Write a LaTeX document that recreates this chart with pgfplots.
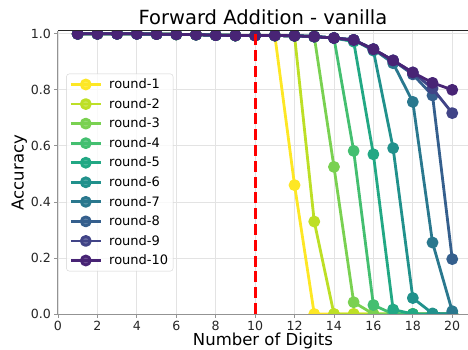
\documentclass[border=0pt]{standalone}
\usepackage{fontspec}
\setmainfont{DejaVu Sans}
\usepackage{pgfplots}
\usepackage{pgfplotstable}
\pgfplotsset{compat=1.18}
\definecolor{c1}{HTML}{FDE725}
\definecolor{c2}{HTML}{BDDF26}
\definecolor{c3}{HTML}{7AD151}
\definecolor{c4}{HTML}{44BF70}
\definecolor{c5}{HTML}{22A884}
\definecolor{c6}{HTML}{21918C}
\definecolor{c7}{HTML}{2A788E}
\definecolor{c8}{HTML}{355F8D}
\definecolor{c9}{HTML}{414487}
\definecolor{c10}{HTML}{482475}
\pgfplotstableread{
x   r1    r2    r3    r4    r5    r6    r7    r8    r9    r10
1   1.0   1.0   1.0   1.0   1.0   1.0   1.0   1.0   1.0   1.0
2   1.0   1.0   1.0   1.0   1.0   1.0   1.0   1.0   1.0   1.0
3   1.0   1.0   1.0   1.0   1.0   1.0   1.0   1.0   1.0   1.0
4   1.0   1.0   1.0   1.0   1.0   1.0   1.0   1.0   1.0   1.0
5   0.999 0.999 0.999 0.999 0.999 0.999 0.999 0.999 0.999 0.999
6   0.998 0.998 0.998 0.998 0.998 0.998 0.998 0.998 0.998 0.998
7   0.997 0.997 0.997 0.997 0.997 0.997 0.997 0.997 0.997 0.997
8   0.995 0.995 0.995 0.995 0.995 0.995 0.995 0.995 0.995 0.995
9   0.994 0.994 0.994 0.994 0.994 0.994 0.994 0.994 0.994 0.994
10  0.994 0.994 0.994 0.994 0.994 0.994 0.994 0.994 0.994 0.994
11  0.994 0.994 0.994 0.994 0.994 0.994 0.994 0.994 0.994 0.994
12  0.46  0.993 0.993 0.993 0.993 0.993 0.993 0.993 0.993 0.993
13  0.0   0.33  0.99  0.99  0.99  0.99  0.99  0.99  0.99  0.99
14  0.0   0.0   0.525 0.985 0.985 0.985 0.985 0.985 0.985 0.985
15  0.0   0.0   0.042 0.582 0.972 0.978 0.978 0.978 0.978 0.978
16  0.0   0.0   0.0   0.032 0.57  0.94  0.945 0.945 0.945 0.945
17  0.0   0.0   0.0   0.0   0.016 0.592 0.895 0.905 0.905 0.905
18  0.0   0.0   0.0   0.0   0.0   0.057 0.757 0.855 0.862 0.862
19  0.0   0.0   0.0   0.0   0.0   0.002 0.255 0.78  0.805 0.825
20  0.0   0.0   0.0   0.0   0.0   0.0   0.01  0.196 0.717 0.80
}\datatable
\begin{document}
\begin{tikzpicture}
\begin{axis}[
  at={(0,0)}, anchor=south west,
  scale only axis, width=410bp, height=283bp,
  xmin=0, xmax=20.8, ymin=0, ymax=1.01,
  xtick={0,2,...,20}, ytick={0,0.2,0.4,0.6,0.8,1.0},
  yticklabel style={/pgf/number format/.cd, fixed, fixed zerofill, precision=1},
  /pgf/number format/assume math mode=true,
  tick label style={font=\fontsize{12.6bp}{14bp}\selectfont, text=black!85},
  axis lines=left,
  axis line style={-, draw=gray!85, line width=1bp},
  tick align=outside, major tick length=3.5bp,
  tick style={draw=gray!85, line width=0.8bp},
  grid=major, major grid style={draw=gray!22, line width=0.8bp},
  title={Forward Addition - vanilla},
  title style={font=\fontsize{19.5bp}{23bp}\selectfont, yshift=-3bp},
  xlabel={Number of Digits}, ylabel={Accuracy},
  label style={font=\fontsize{16.5bp}{19bp}\selectfont},
  xlabel style={yshift=4bp},
  ylabel style={yshift=-3bp},
  clip marker paths=true,
  every axis plot/.append style={line width=2.8bp, mark=*, mark size=4.5bp, line join=round},
  legend cell align=left,
  legend style={at={(0.02,0.5)}, anchor=west, font=\fontsize{13bp}{15bp}\selectfont,
    draw=gray!35, rounded corners=3bp, fill=white, fill opacity=0.8, text opacity=1,
    row sep=4.2bp, inner sep=3bp,
    /tikz/every odd column/.append style={column sep=5bp}},
  legend image code/.code={\draw[mark repeat=2, mark phase=2, #1] plot coordinates {(0bp,0bp) (15bp,0bp) (30bp,0bp)};},
]
\addplot[c1] table[x=x, y=r1] {\datatable};
\addlegendentry{round-1}
\addplot[c2] table[x=x, y=r2] {\datatable};
\addlegendentry{round-2}
\addplot[c3] table[x=x, y=r3] {\datatable};
\addlegendentry{round-3}
\addplot[c4] table[x=x, y=r4] {\datatable};
\addlegendentry{round-4}
\addplot[c5] table[x=x, y=r5] {\datatable};
\addlegendentry{round-5}
\addplot[c6] table[x=x, y=r6] {\datatable};
\addlegendentry{round-6}
\addplot[c7] table[x=x, y=r7] {\datatable};
\addlegendentry{round-7}
\addplot[c8] table[x=x, y=r8] {\datatable};
\addlegendentry{round-8}
\addplot[c9] table[x=x, y=r9] {\datatable};
\addlegendentry{round-9}
\addplot[c10] table[x=x, y=r10] {\datatable};
\addlegendentry{round-10}
\addplot[red, line width=3bp, mark=none, dash pattern=on 11bp off 4.8bp, forget plot] coordinates {(10,0) (10,1.01)};
\draw[black!85, line width=1bp] (rel axis cs:0,1) -- (rel axis cs:1,1);
\end{axis}
\pgfresetboundingbox
\path[use as bounding box] (-58bp,-36bp) rectangle (410bp,314bp);
\end{tikzpicture}
\end{document}
